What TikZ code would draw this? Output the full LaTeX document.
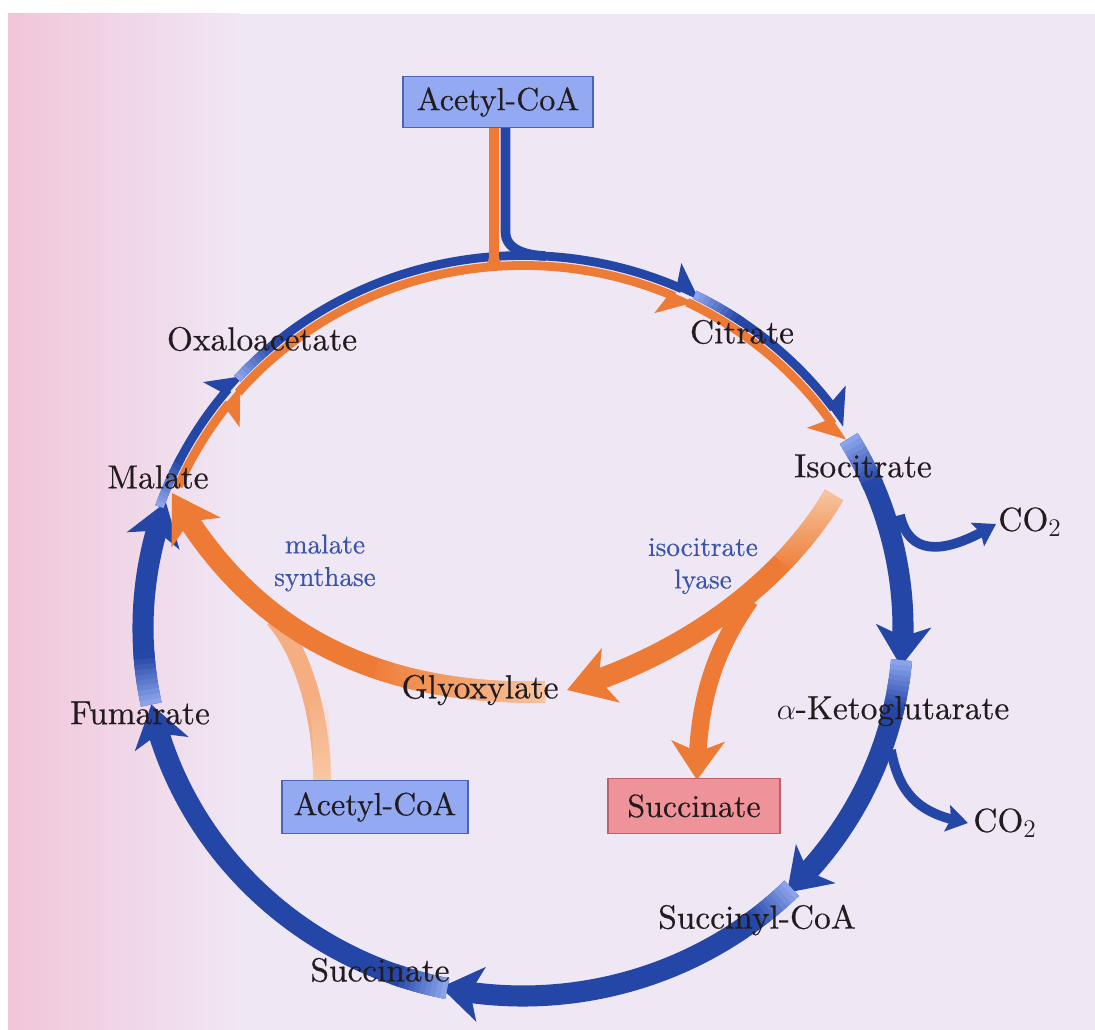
\documentclass[tikz,border=0pt]{standalone}
\usepackage{fontspec}
\newfontfamily\lblfont{lmroman10-regular.otf}[FakeBold=0.45]
\usetikzlibrary{arrows.meta,bending,fadings}
\definecolor{bgpink}{HTML}{F1C5DA}
\definecolor{bglav}{HTML}{F0E7F4}
\definecolor{ringblue}{HTML}{2446A6}
\definecolor{lightblue}{HTML}{8AA3EA}
\definecolor{ringorange}{HTML}{EE7B35}
\definecolor{lightorange}{HTML}{F5AE82}
\definecolor{paleorange}{HTML}{F8CBA8}
\definecolor{boxblue}{HTML}{93A9F1}
\definecolor{boxblueline}{HTML}{4A64B6}
\definecolor{boxpink}{HTML}{EE9399}
\definecolor{boxpinkline}{HTML}{BF5F69}
\definecolor{enzblue}{HTML}{3A55A8}
\definecolor{txtcol}{HTML}{231C1F}
\newcommand{\ringseg}[5]{\draw[#1] ([shift={(#4:#2 and #3)}]C) arc[start angle=#4, end angle=#5, x radius=#2, y radius=#3];}
\newcommand{\ringfade}[4]{%
  \foreach \i [evaluate=\i as \p using int(11*\i), evaluate=\i as \s using #3-0.8*\i, evaluate=\i as \e using #3-0.8*\i-1.1] in {0,...,9}
    {\draw[draw=ringblue!\p!lightblue, line width=#4] ([shift={(\s:#1 and #2)}]C) arc[start angle=\s, end angle=\e, x radius=#1, y radius=#2];}}
\tikzset{
  lbl/.style={font=\lblfont\fontsize{19}{21}\selectfont, text=txtcol, inner sep=0pt},
  enz/.style={font=\lblfont\fontsize{15.5}{18.5}\selectfont, text=enzblue, align=center, inner sep=0pt},
  bluebox/.style={draw=boxblueline, fill=boxblue, line width=1.1pt, font=\lblfont\fontsize{18.2}{20}\selectfont, text=txtcol},
  pinkbox/.style={draw=boxpinkline, fill=boxpink, line width=1.1pt, font=\lblfont\fontsize{18.2}{20}\selectfont, text=txtcol},
  thickring/.style={draw=ringblue, line width=12pt, -{Stealth[length=23pt,width=31pt,inset=6pt]}},
  thinblue/.style={draw=ringblue, line width=5pt, -{Stealth[harpoon,length=16pt,width=26pt,inset=3pt]}},
  thinorange/.style={draw=ringorange, line width=5pt, -{Stealth[harpoon,swap,length=16pt,width=26pt,inset=3pt]}},
  bypass/.style={draw=ringorange, line width=12pt, -{Stealth[length=26pt,width=32pt,inset=7pt]}},
  branch/.style={draw=ringorange, line width=10pt, -{Stealth[length=22pt,width=30pt,inset=6pt]}},
  co2arrow/.style={draw=ringblue, line width=5.5pt, -{Stealth[length=12pt,width=15pt,inset=2pt]}},
}
\begin{document}
\begin{tikzpicture}[x=0.02cm,y=0.02cm]
\useasboundingbox (0,0) rectangle (1095,-1030);
% background
\fill[white] (0,0) rectangle (1095,-1030);
\fill[bglav] (8,-14) rectangle (1095,-1030);
\shade[left color=bgpink, right color=bglav] (8,-14) rectangle (240,-1030);
\coordinate (C) at (523,-628);

% thick blue ring segments
\ringseg{thickring}{380}{368}{31}{-6}
\ringseg{thickring}{380}{368}{-5}{-46}
\ringseg{thickring}{380}{368}{-45}{-102.5}
\ringseg{thickring}{380}{368}{-101.5}{-168}
\ringseg{thickring}{380}{368}{192}{160}
\ringfade{380}{368}{31}{12pt}
\ringfade{380}{368}{-5}{12pt}
\ringfade{380}{368}{-45}{12pt}
\ringfade{380}{368}{-101.5}{12pt}
\ringfade{380}{368}{192}{12pt}

% thin blue (outer) segments
\ringseg{thinblue}{384.5}{372.5}{161}{137}
\ringseg{thinblue}{384.5}{372.5}{138}{62.5}
\ringseg{thinblue}{384.5}{372.5}{63.5}{33}
\ringfade{384.5}{372.5}{161}{5pt}
\ringfade{384.5}{372.5}{138}{5pt}
\ringfade{384.5}{372.5}{63.5}{5pt}

% orange inner ring segments
\ringseg{thinorange}{374.5}{362.5}{157}{138.5}
\ringseg{thinorange}{374.5}{362.5}{139.5}{63}
\ringseg{thinorange}{374.5}{362.5}{64}{31}

% coordinates for bypass
\coordinate (isoout) at (834,-495);
\coordinate (glytip) at (567,-690);
\coordinate (brA) at (750,-600);
\coordinate (succtip) at (697,-780);
\coordinate (glyout) at (545,-692);
\coordinate (maltip) at (172,-493);
\coordinate (acoaout) at (322,-782);
\coordinate (joinC) at (274,-619);
\coordinate (co2aout) at (900,-515);
\coordinate (co2atip) at (996,-524);
\coordinate (co2bout) at (891,-750);
\coordinate (co2btip) at (968,-823);

% glyoxylate bypass
\draw[line width=10pt, draw=lightorange] (acoaout) .. controls (322,-720) and (305,-655) .. (joinC);
\draw[line width=10pt, draw=paleorange, path fading=north] (acoaout) .. controls (322,-750) and (321,-725) .. (318,-700);
\draw[bypass] (glyout) .. controls (400,-695) and (260,-650) .. (maltip);
\draw[line width=12pt, draw=paleorange, path fading=west] (glyout) .. controls (487,-693.2) and (429.8,-686.7) .. (376.4,-668.5);
\draw[branch] (brA) .. controls (715,-650) and (697,-700) .. (succtip);
\draw[bypass] (isoout) .. controls (790,-570) and (700,-650) .. (glytip);
\draw[line width=12pt, draw=paleorange, path fading=south] (isoout) .. controls (820.8,-517.5) and (803.5,-540.5) .. (782.1,-562.7);

% CO2 branches
\draw[co2arrow] (co2aout) .. controls (910,-560) and (950,-552) .. (co2atip);
\draw[co2arrow] (co2bout) .. controls (900,-800) and (925,-815) .. (co2btip);

% junction at top
\draw[ringorange, line width=5.2pt] (494,-128) -- (494,-266);
\fill[ringorange] (478,-269) to[out=0,in=-90] (489.5,-252) -- (498.5,-252) to[out=-90,in=180] (510,-269) -- cycle;
\draw[ringblue, line width=5.5pt] (505.5,-128) -- (505.5,-232) to[out=-90,in=178] (545,-256);

% boxes
\node[bluebox, minimum width=3.8cm, minimum height=1.02cm] (acoa1) at (498,-102) {Acetyl-CoA};
\node[bluebox, minimum width=3.72cm, minimum height=1.06cm] (acoa2) at (375,-807) {Acetyl-CoA};
\node[pinkbox, minimum width=3.44cm, minimum height=1.1cm] (succbox) at (694,-806) {Succinate};

% labels
\node[lbl] (oxa) at (262,-339) {Oxaloacetate};
\node[lbl] (cit) at (742,-332) {Citrate};
\node[lbl] (mal) at (158,-477) {Malate};
\node[lbl] (iso) at (863,-466) {Isocitrate};
\node[lbl] (co2a) at (1030,-522) {CO$_2$};
\node[enz] (ms) at (325,-563) {malate\\synthase};
\node[enz] (il) at (703,-566) {isocitrate\\lyase};
\node[lbl] (gly) at (480,-690) {Glyoxylate};
\node[lbl] (fum) at (140,-713) {Fumarate};
\node[lbl] (akg) at (893,-711) {$\alpha$-Ketoglutarate};
\node[lbl] (co2b) at (1005,-823) {CO$_2$};
\node[lbl] (scoa) at (757,-920) {Succinyl-CoA};
\node[lbl] (succ) at (380,-970) {Succinate};
\end{tikzpicture}
\end{document}
